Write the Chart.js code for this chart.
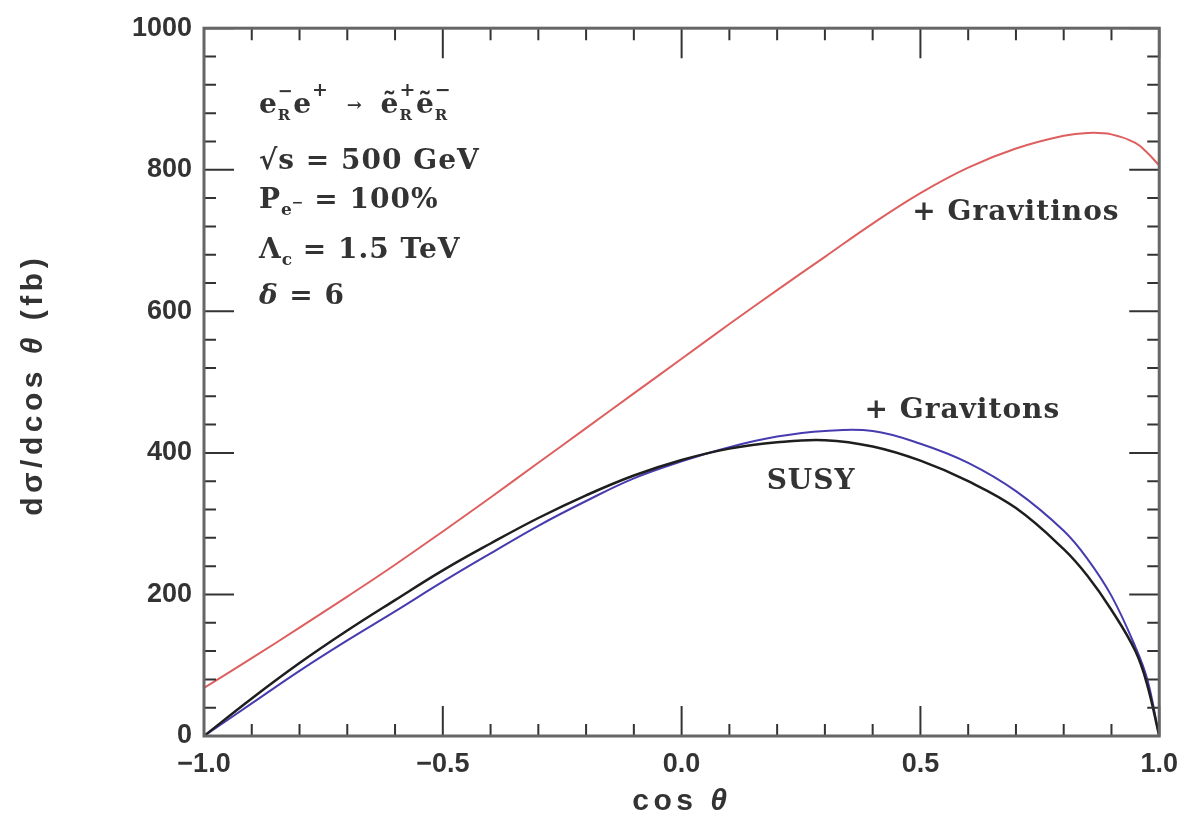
<!DOCTYPE html>
<html>
<head>
<meta charset="utf-8">
<script src="https://cdn.jsdelivr.net/npm/chart.js@4.4.1/dist/chart.umd.min.js"></script>
<style>
  html, body { margin: 0; padding: 0; background: #fff; }
  canvas { display: block; }
</style>
</head>
<body>
<canvas id="xsecChart" width="1190" height="817"></canvas>
<script>
// Data
const cosTheta = [-1.0, -0.9, -0.8, -0.7, -0.6, -0.5, -0.4, -0.3, -0.2, -0.1, 0.0,
    0.1, 0.2, 0.3, 0.4, 0.5, 0.6, 0.7, 0.8, 0.85, 0.9, 0.95, 0.975, 1.0];
const gravitinos = [68, 110, 153, 197, 242, 289, 337, 386, 435, 484, 533,
    582, 630, 677, 724, 767, 803, 830, 848, 852, 850, 838, 824, 806];
const susy = [0, 53, 103, 149, 192, 234, 272, 308, 340, 368, 390,
    406, 415, 418, 409, 389, 360, 322, 264, 226, 178, 120, 72, 0];
const gravitons = [0, 46, 92, 135, 176, 218, 258, 297, 332, 364, 388,
    408, 423, 431, 431, 413, 386, 346, 290, 250, 198, 126, 80, 0];

const xTickLabels = ['\u22121.0', '\u22120.5', '0.0', '0.5', '1.0'];
const yTickLabels = ['0', '200', '400', '600', '800', '1000'];

function toPoints(ys) {
    return cosTheta.map((x, i) => ({ x: x, y: ys[i] }));
}

// draw a run of text pieces; pieces with stack:true don't advance x
function drawRuns(ctx, x, y, runs, family, baseSize, baseSpacing) {
    let cx = x;
    let stackStart = null;
    runs.forEach(r => {
        ctx.font = (r.italic ? 'italic ' : '') + 'bold ' + (r.size || baseSize) + 'px ' + family;
        ctx.letterSpacing = (r.spacing !== undefined ? r.spacing : baseSpacing) + 'px';
        const w = ctx.measureText(r.text).width;
        if (r.stack) {
            stackStart = cx;
            ctx.fillText(r.text, cx, y + (r.dy || 0));
        } else if (stackStart !== null) {
            ctx.fillText(r.text, stackStart, y + (r.dy || 0));
            cx = stackStart + w;
            stackStart = null;
        } else {
            ctx.fillText(r.text, cx, y + (r.dy || 0));
            cx += w;
        }
    });
    return cx - x;
}

const serif = '"DejaVu Serif"';
const sans = '"Liberation Sans", Arial, sans-serif';

function label(ctx, x, y, runs) {
    return drawRuns(ctx, x, y, runs, serif, 28, 1);
}

// inward ticks on all four sides + frame + labels
const frameTicks = {
    id: 'frameTicks',
    afterDraw(chart) {
        const { ctx, chartArea: a, scales: { x, y } } = chart;
        ctx.save();
        ctx.strokeStyle = '#333';
        ctx.lineWidth = 2;
        ctx.beginPath();
        for (let v = -1; v <= 1.0001; v += 0.1) {
            const px = x.getPixelForValue(v);
            const major = Math.abs(v * 2 - Math.round(v * 2)) < 1e-6;
            const len = major ? 30 : 12;
            ctx.moveTo(px, a.bottom); ctx.lineTo(px, a.bottom - len);
            ctx.moveTo(px, a.top); ctx.lineTo(px, a.top + len);
        }
        for (let v = 0; v <= 1000; v += 40) {
            const py = y.getPixelForValue(v);
            const len = v % 200 === 0 ? 30 : 12;
            ctx.moveTo(a.left, py); ctx.lineTo(a.left + len, py);
            ctx.moveTo(a.right, py); ctx.lineTo(a.right - len, py);
        }
        ctx.stroke();
        ctx.strokeStyle = '#666';
        ctx.lineWidth = 3;
        ctx.strokeRect(a.left, a.top, a.right - a.left, a.bottom - a.top);

        ctx.fillStyle = '#333';
        ctx.textBaseline = 'middle';
        ctx.textAlign = 'left';

        // axis titles
        const xTitle = [{ text: 'cos ' }, { text: '\u03B8', italic: true }];
        ctx.font = 'bold 30px ' + sans;
        ctx.letterSpacing = '4.5px';
        const xw = ctx.measureText('cos \u03B8').width;
        drawRuns(ctx, (a.left + a.right) / 2 - xw / 2, 802, xTitle, sans, 30, 4.5);

        const yTitle = [{ text: 'd\u03C3/dcos ' }, { text: '\u03B8', italic: true }, { text: ' (fb)' }];
        const yw = ctx.measureText('d\u03C3/dcos \u03B8 (fb)').width;
        ctx.save();
        ctx.translate(34, (a.top + a.bottom) / 2 + 3);
        ctx.rotate(-Math.PI / 2);
        drawRuns(ctx, -yw / 2, 0, yTitle, sans, 30, 4.5);
        ctx.restore();

        // annotations
        const lx = x.getPixelForValue(-0.885);
        label(ctx, lx, y.getPixelForValue(890), [
            { text: 'e' },
            { text: '\u2212', size: 18, dy: -14, stack: true, spacing: 0 },
            { text: 'R', size: 15, dy: 10, spacing: 3 },
            { text: 'e' },
            { text: '+', size: 19, dy: -15, spacing: 0 },
            { text: '   \u2192   ', size: 18, spacing: 0 },
            { text: '\u1EBD' },
            { text: '+', size: 19, dy: -15, stack: true, spacing: 0 },
            { text: 'R', size: 15, dy: 10, spacing: 4 },
            { text: '\u1EBD' },
            { text: '\u2212', size: 19, dy: -15, stack: true, spacing: 0 },
            { text: 'R', size: 15, dy: 10, spacing: 0 }
        ]);
        label(ctx, lx, y.getPixelForValue(812), [{ text: '\u221As = 500 GeV' }]);
        label(ctx, lx, y.getPixelForValue(756), [
            { text: 'P' },
            { text: 'e', size: 17, dy: 10, spacing: 0 },
            { text: '\u2212', size: 14, dy: 2, spacing: 0 },
            { text: ' = 100%' }
        ]);
        label(ctx, lx, y.getPixelForValue(686), [
            { text: '\u039B' },
            { text: 'c', size: 17, dy: 10, spacing: 0 },
            { text: ' = 1.5 TeV' }
        ]);
        label(ctx, lx, y.getPixelForValue(621), [
            { text: '\u03B4', italic: true },
            { text: ' = 6' }
        ]);

        label(ctx, x.getPixelForValue(0.483), y.getPixelForValue(740), [{ text: '+ Gravitinos' }]);
        label(ctx, x.getPixelForValue(0.383), y.getPixelForValue(460), [{ text: '+ Gravitons' }]);
        label(ctx, x.getPixelForValue(0.178), y.getPixelForValue(359), [{ text: 'SUSY' }]);
        ctx.restore();
    }
};

const ctx = document.getElementById('xsecChart').getContext('2d');
const xsecChart = new Chart(ctx, {
    type: 'line',
    data: {
        datasets: [
            { label: '+ Gravitinos', data: toPoints(gravitinos), borderColor: 'rgb(222,95,95)', borderWidth: 2 },
            { label: 'SUSY', data: toPoints(susy), borderColor: 'rgb(30,30,30)', borderWidth: 2.5 },
            { label: '+ Gravitons', data: toPoints(gravitons), borderColor: 'rgb(70,60,175)', borderWidth: 2 }
        ]
    },
    options: {
        responsive: false,
        animation: false,
        elements: { point: { radius: 0 }, line: { tension: 0.4 } },
        layout: { padding: { left: 0, right: 30, top: 23, bottom: 0 } },
        plugins: {
            legend: { display: false },
            tooltip: { enabled: false }
        },
        scales: {
            x: {
                type: 'linear',
                min: -1,
                max: 1,
                grid: { display: false, drawTicks: false },
                border: { display: false },
                afterFit(scale) { scale.height = 81; },
                ticks: {
                    stepSize: 0.5,
                    padding: 12,
                    color: '#333',
                    font: { family: sans, size: 27, weight: 'bold' },
                    callback: (v, i) => xTickLabels[i]
                }
            },
            y: {
                min: 0,
                max: 1000,
                grid: { display: false, drawTicks: false },
                border: { display: false },
                afterFit(scale) { scale.width = 204; },
                ticks: {
                    stepSize: 200,
                    padding: 12,
                    color: '#333',
                    font: { family: sans, size: 27, weight: 'bold' },
                    callback: (v, i) => yTickLabels[i]
                }
            }
        }
    },
    plugins: [frameTicks]
});
</script>
</body>
</html>
